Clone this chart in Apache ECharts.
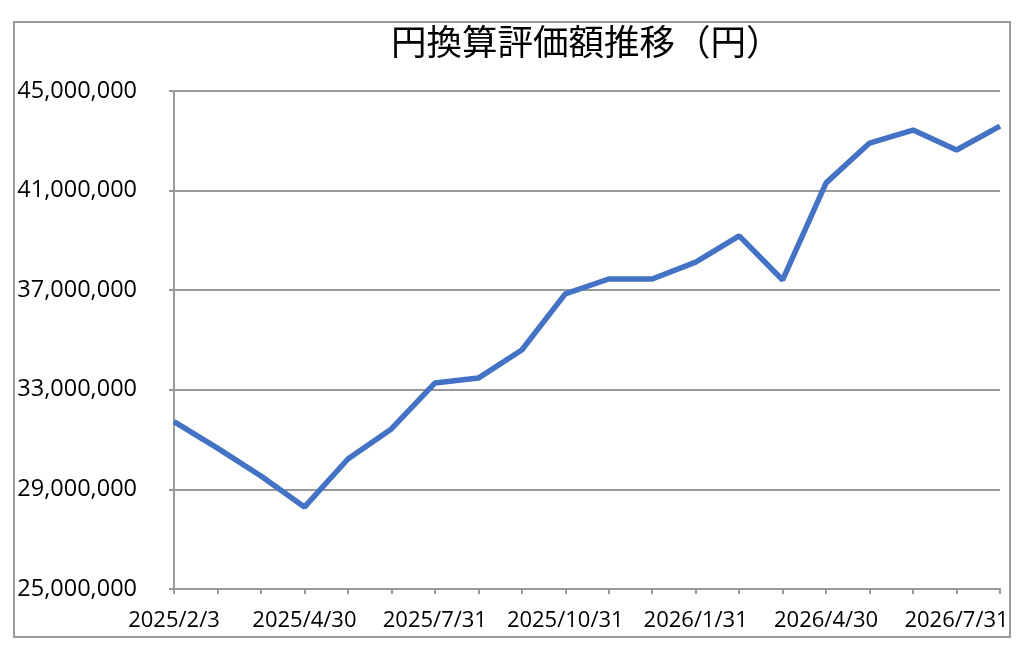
<!DOCTYPE html>
<html>
<head>
<meta charset="utf-8">
<script src="https://cdn.jsdelivr.net/npm/echarts@6/dist/echarts.min.js"></script>
<style>
  html, body { margin: 0; padding: 0; background: #fff; }
  #chart { width: 1024px; height: 651px; }
</style>
</head>
<body>
<div id="chart"></div>
<script>
// 日付（カテゴリ）
var dates = ['2025/2/3', '2025/2/28', '2025/3/31', '2025/4/30', '2025/5/31', '2025/6/30',
  '2025/7/31', '2025/8/31', '2025/9/30', '2025/10/31', '2025/11/30', '2025/12/31',
  '2026/1/31', '2026/2/28', '2026/3/31', '2026/4/30', '2026/5/31', '2026/6/30',
  '2026/7/31', '2026/8/31'];
// 円換算評価額（円）
var values = [31720000, 30660000, 29540000, 28290000, 30220000, 31430000,
  33270000, 33470000, 34600000, 36850000, 37450000, 37450000,
  38130000, 39180000, 37410000, 41310000, 42910000, 43430000,
  42630000, 43590000];
var yMin = 25000000, yMax = 45000000, yStep = 4000000;

var chart = echarts.init(document.getElementById('chart'));
var numFont = '"Open Sans", "Noto Sans", sans-serif';

chart.setOption({
  animation: false,
  backgroundColor: '#fff',
  title: {
    text: '円換算評価額推移（円）',
    left: 386,
    top: 19,
    textStyle: {
      fontFamily: '"Noto Sans CJK JP", sans-serif',
      fontSize: 35.5,
      fontWeight: 'normal',
      color: '#000'
    }
  },
  graphic: [{
    type: 'rect',
    shape: { x: 14, y: 22, width: 996, height: 615 },
    style: { fill: 'none', stroke: '#9a9a9a', lineWidth: 2 },
    z: -1
  }],
  grid: { left: 174, right: 24, top: 91, bottom: 62 },
  xAxis: {
    type: 'category',
    data: dates,
    boundaryGap: false,
    axisLine: { lineStyle: { color: '#999', width: 2 } },
    axisTick: { show: true, interval: 0, length: 5, lineStyle: { color: '#999', width: 2 } },
    axisLabel: {
      interval: 2,
      margin: 21,
      color: '#000',
      fontFamily: numFont,
      fontSize: 22,
      fontWeight: 500
    },
    splitLine: { show: false }
  },
  yAxis: {
    type: 'value',
    min: yMin,
    max: yMax,
    interval: yStep,
    axisLine: { show: true, lineStyle: { color: '#999', width: 2 } },
    axisTick: { show: true, length: 5, lineStyle: { color: '#999', width: 2 } },
    axisLabel: {
      margin: 37,
      color: '#000',
      fontFamily: numFont,
      fontSize: 23.5,
      fontWeight: 500,
      formatter: function (v) { return v.toLocaleString('en-US'); }
    },
    splitLine: { lineStyle: { color: '#999', width: 2 } }
  },
  series: [{
    type: 'line',
    data: values,
    showSymbol: false,
    symbol: 'none',
    lineStyle: { color: '#4472C4', width: 5.5 },
    itemStyle: { color: '#4472C4' }
  }]
});
</script>
</body>
</html>
